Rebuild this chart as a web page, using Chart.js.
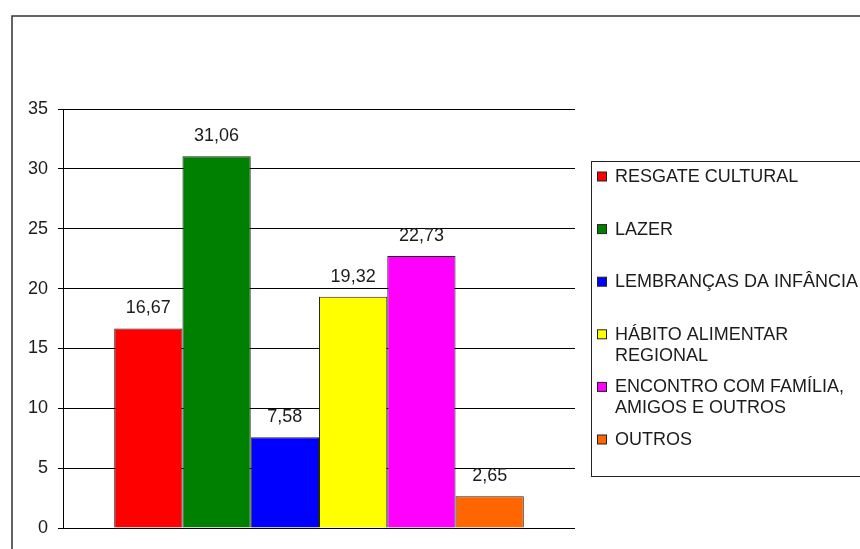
<!DOCTYPE html>
<html lang="pt-BR">
<head>
<meta charset="utf-8">
<title>Motivos</title>
<script src="https://cdn.jsdelivr.net/npm/chart.js@4/dist/chart.umd.min.js"></script>
<style>
    html, body { margin: 0; padding: 0; background: #fff; }
    canvas { display: block; }
</style>
</head>
<body>
<canvas id="chart" width="860" height="549"></canvas>
<script>
// Series names (legend lines) and percentages
const seriesNames = [
    ['RESGATE CULTURAL'],
    ['LAZER'],
    ['LEMBRANÇAS DA INFÂNCIA'],
    ['HÁBITO ALIMENTAR', 'REGIONAL'],
    ['ENCONTRO COM FAMÍLIA,', 'AMIGOS E OUTROS'],
    ['OUTROS']
];
const seriesValues = [16.67, 31.06, 7.58, 19.32, 22.73, 2.65];
const seriesColors = ['#ff0000', '#008000', '#0000ff', '#ffff00', '#ff00ff', '#ff6600'];
const yTicks = [0, 5, 10, 15, 20, 25, 30, 35];

const FONT = '18px "Liberation Sans", Arial, sans-serif';
const TEXT = '#1c1c1c';

// Outer frame + legend box on the right
const frameLegend = {
    id: 'frameLegend',
    afterDraw(chart) {
        const ctx = chart.ctx;
        ctx.save();
        ctx.strokeStyle = '#333';
        ctx.lineWidth = 1.5;
        ctx.strokeRect(12, 16, 900, 600);

        ctx.lineWidth = 1;
        ctx.strokeStyle = '#222';
        ctx.strokeRect(591.5, 161.5, 300, 315);

        ctx.font = FONT;
        ctx.fillStyle = TEXT;
        ctx.textBaseline = 'middle';
        chart.data.datasets.forEach((ds, i) => {
            const y = 177 + i * 52.6;
            ctx.fillStyle = ds.backgroundColor;
            ctx.fillRect(597.5, y - 5, 9, 9);
            ctx.strokeStyle = '#222';
            ctx.strokeRect(597.5, y - 5, 9, 9);
            ctx.fillStyle = TEXT;
            seriesNames[i].forEach((line, j) => {
                ctx.fillText(line, 615, y + j * 21);
            });
        });
        ctx.restore();
    }
};

// Value written above each bar, with decimal comma
const valueLabels = {
    id: 'valueLabels',
    afterDatasetsDraw(chart) {
        const ctx = chart.ctx;
        ctx.save();
        ctx.font = FONT;
        ctx.fillStyle = TEXT;
        ctx.textAlign = 'center';
        ctx.textBaseline = 'middle';
        chart.data.datasets.forEach((ds, i) => {
            const bar = chart.getDatasetMeta(i).data[0];
            ctx.fillText(ds.data[0].toFixed(2).replace('.', ','), bar.x, bar.y - 20);
        });
        ctx.restore();
    }
};

new Chart(document.getElementById('chart'), {
    type: 'bar',
    data: {
        labels: [''],
        datasets: seriesValues.map((v, i) => ({
            label: seriesNames[i].join(' '),
            data: [v],
            backgroundColor: seriesColors[i],
            borderColor: '#222',
            borderWidth: 1
        }))
    },
    options: {
        responsive: false,
        animation: false,
        layout: { padding: { left: 0, top: 109, right: 285, bottom: 21 } },
        datasets: { bar: { categoryPercentage: 0.8, barPercentage: 1.0 } },
        scales: {
            x: { display: false },
            y: {
                min: 0,
                max: 35,
                afterFit(scale) { scale.width = 63; },
                afterBuildTicks(scale) { scale.ticks = yTicks.map(v => ({ value: v })); },
                ticks: {
                    font: { family: '"Liberation Sans", Arial, sans-serif', size: 18 },
                    color: TEXT,
                    padding: 10
                },
                grid: { color: '#000', lineWidth: 1, tickLength: 5 },
                border: { color: '#000', width: 1 }
            }
        },
        plugins: {
            legend: { display: false },
            tooltip: { enabled: false }
        }
    },
    plugins: [frameLegend, valueLabels]
});
</script>
</body>
</html>
